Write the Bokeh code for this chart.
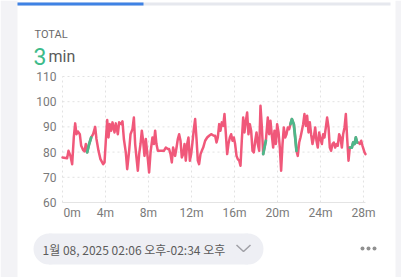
from bokeh.plotting import figure
from bokeh.models import Range1d
from bokeh.core.properties import value
from bokeh.embed import file_html
from bokeh.resources import INLINE

# ---- data (minutes, bpm) ----
minutes = [0.0, 0.43, 0.56, 0.74, 0.90, 1.05, 1.18, 1.30, 1.43, 1.61, 1.74, 1.92, 2.05, 2.17,
           2.29, 2.48, 2.67, 2.85, 3.04, 3.16, 3.35, 3.53, 3.78, 3.91, 4.03, 4.16, 4.28, 4.40,
           4.53, 4.65, 4.84, 4.96, 5.15, 5.27, 5.46, 5.58, 5.71, 5.89, 6.02, 6.20, 6.33, 6.51,
           6.64, 6.76, 6.88, 7.01, 7.13, 7.26, 7.38, 7.50, 7.63, 7.75, 7.94, 8.06, 8.19, 8.37,
           8.50, 8.62, 8.74, 8.87, 9.12, 9.43, 9.61, 9.80, 9.92, 10.05, 10.17, 10.29, 10.48,
           10.61, 10.73, 10.85, 10.98, 11.10, 11.23, 11.35, 11.47, 11.60, 11.72, 11.85, 11.97,
           12.09, 12.22, 12.34, 12.47, 12.59, 12.71, 12.84, 12.96, 13.09, 13.27, 13.46, 13.64,
           13.83, 14.08, 14.20, 14.33, 14.45, 14.58, 14.70, 14.82, 14.95, 15.07, 15.20, 15.32,
           15.44, 15.57, 15.69, 15.82, 15.94, 16.06, 16.19, 16.31, 16.44, 16.56, 16.68, 16.81,
           16.93, 17.06, 17.18, 17.30, 17.43, 17.55, 17.68, 17.80, 17.93, 18.05, 18.17, 18.30,
           18.42, 18.55, 18.67, 18.80, 18.92, 19.10, 19.23, 19.35, 19.48, 19.60, 19.72, 19.85,
           19.97, 20.10, 20.22, 20.34, 20.47, 20.59, 20.72, 20.84, 20.96, 21.09, 21.21, 21.34,
           21.52, 21.65, 21.77, 21.89, 22.02, 22.14, 22.27, 22.39, 22.51, 22.64, 22.76, 22.89,
           23.01, 23.13, 23.26, 23.38, 23.51, 23.63, 23.75, 23.88, 24.00, 24.13, 24.25, 24.37,
           24.50, 24.62, 24.75, 24.87, 24.99, 25.12, 25.24, 25.37, 25.49, 25.61, 25.74, 25.86,
           25.99, 26.11, 26.24, 26.36, 26.48, 26.61, 26.73, 26.92, 27.04, 27.17, 27.29, 27.41,
           27.54, 27.66, 27.79, 27.91, 28.10, 28.19]
bpm = [77.9, 77.6, 80.5, 78.5, 75.2, 85.8, 91.4, 87.1, 88.2, 87.1, 82.5, 80.8, 80.3, 83.2,
       79.9, 83.2, 85.8, 87.1, 90.0, 85.2, 80.5, 77.2, 75.2, 75.9, 84.5, 92.7, 85.8, 91.1,
       88.5, 91.8, 87.8, 91.4, 87.1, 91.8, 91.1, 92.2, 85.2, 79.9, 73.2, 80.5, 87.1, 89.1,
       93.7, 83.2, 77.9, 72.6, 79.2, 83.2, 88.5, 84.5, 78.5, 85.2, 77.2, 71.9, 79.9, 85.8,
       83.2, 88.5, 83.2, 80.5, 80.5, 80.5, 81.8, 81.2, 81.2, 79.2, 75.9, 81.8, 78.5,
       81.8, 85.2, 87.1, 84.5, 77.9, 79.2, 83.2, 76.6, 83.2, 85.8, 76.6, 79.2,
       83.8, 89.1, 93.1, 85.2, 76.6, 75.2, 79.2, 80.5, 81.8, 84.5, 85.8, 86.5,
       87.1, 86.5, 86.5, 83.8, 85.8, 91.1, 88.5, 91.8, 90.4, 95.1, 87.1, 79.2,
       83.2, 85.8, 87.1, 84.5, 85.8, 83.2, 78.5, 77.2, 76.6, 74.6, 84.5, 93.7,
       87.8, 92.4, 95.7, 87.1, 91.1, 88.5, 80.5, 79.9, 84.5, 87.8, 83.2, 80.5,
       98.4, 89.8, 79.2, 82.0, 84.5, 93.7, 87.1, 92.4, 86.5, 81.8, 88.5, 83.2,
       91.1, 87.8, 81.8, 72.6, 83.2, 89.8, 85.8, 87.1, 89.8, 89.1, 91.1, 93.1,
       91.1, 85.8, 80.5, 78.5, 83.8, 85.8, 88.5, 91.1, 95.1, 90.4, 94.4, 87.8,
       91.8, 87.1, 83.2, 85.8, 89.8, 84.5, 81.8, 87.8, 85.2, 83.2, 87.1, 85.8,
       89.8, 93.7, 89.8, 81.8, 80.5, 83.2, 83.8, 81.8, 83.2, 82.5, 87.1, 85.8,
       81.8, 87.1, 89.8, 95.1, 85.8, 76.6, 81.8, 81.8, 83.8, 83.2, 85.8, 83.8,
       83.8, 83.2, 84.5, 82.5, 79.9, 79.2]
green_start = [2.28, 18.66, 21.20, 26.72]
green_end = [2.68, 18.93, 21.78, 27.42]

x_ticks = [0, 4, 8, 12, 16, 20, 24, 28]
x_tick_labels = ["0m", "4m", "8m", "12m", "16m", "20m", "24m", "28m"]
y_ticks = [60, 70, 80, 90, 100, 110]
y_tick_labels = ["60", "70", "80", "90", "100", "110"]

total_label = "TOTAL"
total_value = "3"
total_unit = "min"
date_text = "1월 08, 2025 02:06 오후-02:34 오후"

# ---- styling / layout constants ----
RED = "#F0587A"
GREEN = "#4DB88A"
FONT = "Roboto"
W, H = 401, 277
PL, PR, PT, PB = 62, 365, 76, 202          # plot area in page pixels
T0, T1 = 0.0, minutes[-1]
V0, V1 = y_ticks[0], y_ticks[-1]

kx = (T1 - T0) / (PR - PL)
ky = (V1 - V0) / (PB - PT)

p = figure(width=W, height=H, output_backend="svg", toolbar_location=None,
           x_range=Range1d(0, W), y_range=Range1d(H, 0), min_border=0)
p.axis.visible = False
p.grid.visible = False
p.outline_line_color = None
p.background_fill_color = "white"
p.border_fill_color = "white"
p.extra_x_ranges = {"t": Range1d(T0 - PL * kx, T1 + (W - PR) * kx)}
p.extra_y_ranges = {"v": Range1d(V0 - (H - PB) * ky, V1 + PT * ky)}
C = dict(x_range_name="t", y_range_name="v")

# ---- page chrome ----
p.quad(left=[0], right=[17], top=[0], bottom=[H], fill_color="#f3f3f6", line_color=None)
p.quad(left=[395], right=[W], top=[0], bottom=[H], fill_color="#f3f3f6", line_color=None)
p.quad(left=[17], right=[390], top=[2], bottom=[5], fill_color="#e6e8ee", line_color=None)
p.quad(left=[17], right=[143], top=[2], bottom=[5], fill_color="#3f82e4", line_color=None)

p.text(x=[34], y=[34], text=[total_label], text_font=value(FONT), text_font_size="11px",
       text_color="#6b6b6b", text_baseline="alphabetic")
p.text(x=[33], y=[56], text=[total_value], text_font=value(FONT), text_font_size="23px",
       text_color="#3dbb8a", text_baseline="alphabetic")
p.text(x=[48], y=[56], text=[total_unit], text_font=value(FONT), text_font_size="16px",
       text_color="#5a5a5a", text_baseline="alphabetic")

# date pill
p.rect(x=[148], y=[248.5], width=[199], height=[31], fill_color="#eeeff4", line_color=None)
p.circle(x=[48.5, 247.5], y=[248.5, 248.5], radius=15.5, fill_color="#eeeff4", line_color=None)
p.text(x=[42], y=[249], text=[date_text], text_font=value("Noto Sans CJK KR"),
       text_font_size="12px", text_color="#5c5c5c", text_baseline="middle")
p.line(x=[236, 243, 250], y=[244.5, 251, 244.5], line_color="#a0a0a6", line_width=1.5)
p.circle(x=[362, 368, 374], y=[248, 248, 248], radius=2, fill_color="#909090", line_color=None)

# ---- chart: grid, axis line, tick labels ----
n_x = len(x_ticks)
n_y = len(y_ticks)
p.segment(x0=x_ticks, y0=[V0] * n_x, x1=x_ticks, y1=[V1] * n_x, line_color="#e2e2e2",
          line_dash="2 3", line_width=1, **C)
p.segment(x0=[T0] * n_y, y0=y_ticks, x1=[T1] * n_y, y1=y_ticks, line_color="#e2e2e2",
          line_dash="2 3", line_width=1, **C)
p.segment(x0=[T0], y0=[V0], x1=[T1], y1=[V0], line_color="#e4e4e4", line_width=1, **C)

p.text(x=[T0] * n_y, y=y_ticks, text=y_tick_labels, x_offset=-6, text_align="right",
       text_baseline="middle", text_font=value(FONT), text_font_size="12px",
       text_color="#7a7a7a", **C)
p.text(x=x_ticks[:1], y=[V0], text=x_tick_labels[:1], x_offset=1, y_offset=10,
       text_align="left", text_baseline="middle", text_font=value(FONT),
       text_font_size="12px", text_color="#7a7a7a", **C)
p.text(x=x_ticks[1:], y=[V0] * (n_x - 1), text=x_tick_labels[1:], y_offset=10,
       text_align="center", text_baseline="middle", text_font=value(FONT),
       text_font_size="12px", text_color="#7a7a7a", **C)

# ---- data line ----
p.line(minutes, bpm, line_color=RED, line_width=2.5, line_join="round", line_cap="round", **C)
for a, b in zip(green_start, green_end):
    xs = [m for m in minutes if a <= m <= b]
    ys = [v for m, v in zip(minutes, bpm) if a <= m <= b]
    p.line(xs, ys, line_color=GREEN, line_width=2.8, line_join="round", line_cap="round", **C)

open("out.html", "w").write(file_html(p, INLINE))
